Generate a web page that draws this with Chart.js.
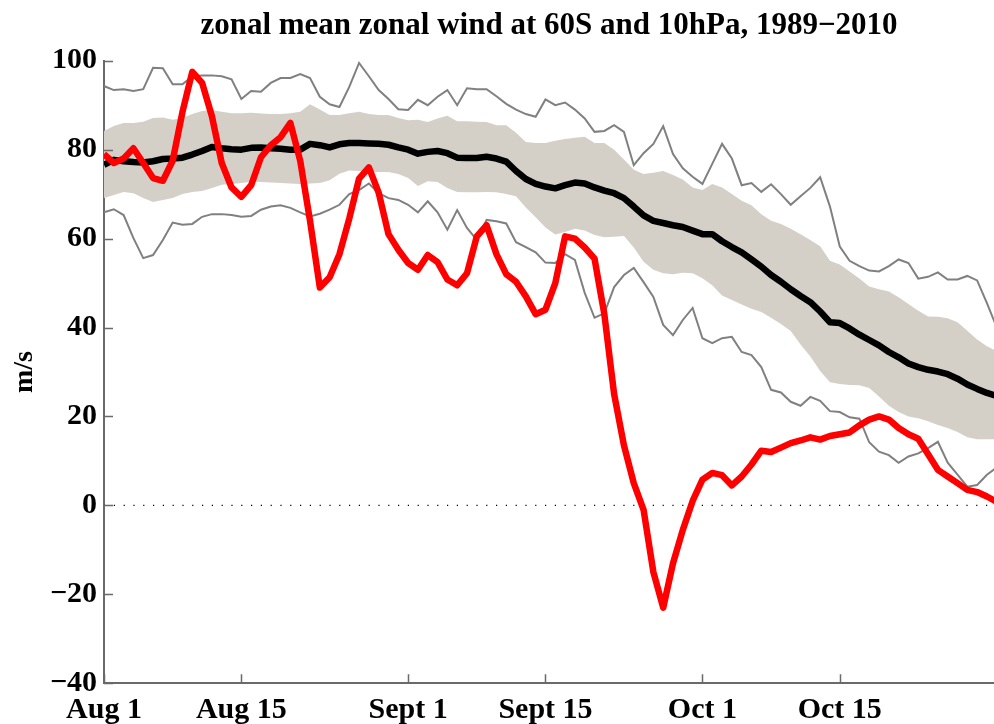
<!DOCTYPE html>
<html>
<head>
<meta charset="utf-8">
<script src="https://cdn.jsdelivr.net/npm/chart.js@4.4.1/dist/chart.umd.min.js"></script>
<style>
  html, body { margin: 0; padding: 0; background: #fff; overflow: hidden; }
  canvas { display: block; }
</style>
</head>
<body>
<canvas id="c" width="994" height="724"></canvas>
<script>
// ---- data (days since Aug 1) ----
const tickDays   = [0, 14, 31, 45, 61, 75];
const tickLabels = ['Aug 1', 'Aug 15', 'Sept 1', 'Sept 15', 'Oct 1', 'Oct 15'];
const yTicks     = [-40, -20, 0, 20, 40, 60, 80, 100];

// current year (red)
const current = [79, 77, 78, 80.3, 77, 73.6, 73, 77.5, 88.5, 97.5,
  95, 87.5, 77, 71.5, 69.4, 72, 78.3, 81, 82.8, 86,
  77.5, 64, 49, 51.3, 56.5, 64.5, 73.5, 76, 70.3, 61,
  57.5, 54.5, 53, 56.3, 54.7, 50.8, 49.5, 52.2, 60.5, 63,
  56.5, 52, 50.3, 47, 43, 44, 50, 60.5, 60, 58,
  55.5, 43, 25, 13.5, 5, -1, -15, -23, -13, -5.5,
  1, 5.8, 7.3, 6.8, 4.5, 6.5, 9.2, 12.3, 12, 13,
  14, 14.6, 15.3, 14.8, 15.6, 16, 16.4, 18, 19.3, 20,
  19.3, 17.4, 16, 15, 11.5, 8, 6.5, 5, 3.5, 3,
  2, 0.8];

// climatological mean (black)
const meanWind = [76.6, 77.7, 77.4, 77.2, 77.1, 77.4, 77.9, 78, 78.2, 78.9,
  79.7, 80.6, 80.3, 80.1, 80, 80.4, 80.5, 80.3, 80.2, 80,
  80, 81.3, 81, 80.5, 81.2, 81.5, 81.5, 81.4, 81.3, 81.1,
  80.5, 80, 79.1, 79.5, 79.7, 79.2, 78.2, 78.1, 78.1, 78.4,
  78, 77.3, 75.2, 73.4, 72.3, 71.7, 71.3, 72, 72.6, 72.4,
  71.5, 70.8, 70.2, 69.1, 67.2, 65.2, 64, 63.5, 63, 62.6,
  61.8, 61, 61, 59.4, 58.1, 56.9, 55.3, 53.7, 51.8, 50.3,
  48.6, 47.1, 45.7, 43.6, 41.2, 41, 39.8, 38.4, 37.2, 36,
  34.5, 33.3, 31.9, 31.1, 30.5, 30.1, 29.5, 28.5, 27.2, 26.2,
  25.3, 24.6];

// shaded band (upper / lower)
const bandUpper = [84.2, 85.3, 86, 86, 86.3, 87.1, 87.2, 86.7, 87.1, 88,
  88.7, 88.9, 88.5, 88.2, 88.2, 88.3, 88.1, 88, 88, 88.2,
  88.5, 90.2, 89, 87.8, 87.8, 88.2, 88.5, 88, 87.8, 87.8,
  87.1, 86.6, 86.7, 86.2, 87, 87.6, 86.4, 86.4, 86.3, 86.2,
  85.5, 85.5, 83.8, 81.7, 81.5, 81.5, 82, 82.4, 82.7, 82.9,
  81.5, 81.5, 80, 77.8, 75.5, 74.5, 74.8, 75.2, 74.3, 73.3,
  71.5, 70.9, 72.3, 71.5, 70, 68.5, 67.5, 65.5, 64, 63.3,
  62.2, 61, 59.7, 58.3, 55, 54.2, 52.6, 51, 49.2, 48.6,
  48.1, 46.8, 45.3, 43.8, 42.5, 42.4, 42.1, 41.2, 39.3, 37.3,
  35.8, 34.7];
const bandLower = [69.1, 69.8, 70.5, 70.2, 69.1, 68.2, 68.7, 69.1, 70, 70.5,
  70.7, 71.4, 72.1, 72.3, 72.5, 72.8, 72.7, 72.6, 72.5, 72.4,
  72.3, 72.4, 72.5, 73.1, 74.6, 75.3, 75.2, 75, 75, 75,
  74.5, 73.6, 71.8, 72.9, 72.7, 71.4, 70.5, 70.4, 70.4, 70.5,
  70.4, 70, 69.5, 67, 64.8, 62.5, 60.9, 61.5, 62.2, 61.8,
  60.8, 60.3, 60.4, 60.6, 58, 54.8, 53, 52.2, 52, 52.3,
  52.2, 51.1, 49.5, 47.2, 46.2, 45.2, 44.2, 43.5, 42.2, 40.8,
  39.2, 36.2, 33.5, 30.2, 27.7, 27.3, 27.1, 27, 26.4, 24.5,
  22.4, 21, 20, 19.6, 18.9, 18.1, 17.4, 16.5, 15.3, 14.9,
  14.9, 14.9];

// record max / min (grey)
const recMax = [94.3, 93.4, 93.6, 93.2, 93.6, 98.4, 98.3, 94.7, 94.7, 96.5,
  96.7, 96.7, 96.5, 95.8, 91.4, 93.2, 93, 95, 96.1, 96.1,
  97, 96.1, 91.9, 90.2, 89.6, 94.1, 99.5, 96.5, 93.4, 91.4,
  89.1, 88.9, 91.2, 90, 91.9, 93.4, 90, 93.8, 93.6, 93.6,
  92, 90.3, 89, 88, 87.4, 91.3, 90, 90.6, 89, 87,
  84, 84.2, 85.5, 84, 76.5, 79.2, 81.3, 85.3, 79, 75.8,
  73.9, 72.3, 76.8, 81.3, 78, 72, 72.5, 70.5, 72.2, 70,
  67.6, 69.5, 71.4, 73.8, 67.2, 58.2, 55, 53.8, 52.8, 52.6,
  53.8, 55.3, 54.5, 51, 51.4, 52.4, 50.8, 50.8, 51.6, 50.6,
  45.5, 40];
const recMin = [65.9, 66.6, 65.3, 60.1, 55.6, 56.3, 59.7, 63.6, 63.1, 63.3,
  64.9, 65.5, 65.5, 65.3, 64.9, 65.1, 66.5, 67.2, 67.5, 66.9,
  65.9, 65, 65.6, 66.5, 67.6, 70, 70.9, 72.4, 70.2, 69.1,
  68.7, 67.6, 65.9, 68.4, 65.9, 62, 66.4, 62.4, 59.7, 64.2,
  63.9, 63.4, 59.2, 58.1, 56.9, 54.6, 54.5, 56.5, 55.2, 47.8,
  42.2, 43.2, 49.1, 51.8, 53.4, 50.2, 46.9, 40.6, 38.3, 41.7,
  44.4, 37.6, 36.5, 37.6, 37.9, 34.5, 33.8, 31.1, 26, 25.4,
  23.3, 22.4, 24.4, 23.5, 21.2, 21, 19.8, 19.5, 14.2, 12.1,
  11.3, 9.6, 11, 11.7, 12.9, 14.3, 9.6, 6.9, 4.2, 4.6,
  6.9, 8.5];

const xMin = 0, xMax = 90.72;

// ---- build chart ----
const pts = arr => arr.map((v, i) => ({ x: i, y: v }));
const FONT = "'Liberation Serif', 'Times New Roman', serif";
const FS = 30;

const innerTicks = {
  id: 'innerTicks',
  afterDatasetsDraw(chart) {
    const { ctx, chartArea: a, scales: { x, y } } = chart;
    ctx.save();
    ctx.strokeStyle = '#6a6a6a';
    ctx.lineWidth = 1.5;
    ctx.beginPath();
    tickDays.forEach(d => {
      const px = Math.round(x.getPixelForValue(d)) + 0.5;
      ctx.moveTo(px, a.bottom); ctx.lineTo(px, a.bottom - 9);
    });
    yTicks.forEach(v => {
      const py = Math.round(y.getPixelForValue(v)) + 0.5;
      ctx.moveTo(a.left, py); ctx.lineTo(a.left + 9, py);
    });
    ctx.stroke();
    ctx.restore();
  }
};

new Chart(document.getElementById('c'), {
  type: 'line',
  data: {
    datasets: [
      { label: 'current', data: pts(current), borderColor: '#ff0000', borderWidth: 6.5,
        pointRadius: 0, fill: false, order: 0, borderJoinStyle: 'round' },
      { label: 'mean', data: pts(meanWind), borderColor: '#000000', borderWidth: 6.5,
        pointRadius: 0, fill: false, order: 1, borderJoinStyle: 'round' },
      { label: 'max', data: pts(recMax), borderColor: '#808080', borderWidth: 2,
        pointRadius: 0, fill: false, order: 2 },
      { label: 'min', data: pts(recMin), borderColor: '#808080', borderWidth: 2,
        pointRadius: 0, fill: false, order: 3 },
      { label: 'zero', data: [{ x: xMin, y: 0 }, { x: 91, y: 0 }], borderColor: '#000',
        borderWidth: 1.2, borderDash: [1.2, 8.6], pointRadius: 0, fill: false, order: 4 },
      { label: 'upper', data: pts(bandUpper), borderWidth: 0, borderColor: 'rgba(0,0,0,0)',
        backgroundColor: '#d4d0c8', pointRadius: 0, fill: '+1', order: 5 },
      { label: 'lower', data: pts(bandLower), borderWidth: 0, borderColor: 'rgba(0,0,0,0)',
        pointRadius: 0, fill: false, order: 6 }
    ]
  },
  options: {
    responsive: false,
    animation: false,
    events: [],
    layout: { padding: 0 },
    elements: { line: { tension: 0 } },
    plugins: {
      legend: { display: false },
      tooltip: { enabled: false },
      filler: { propagate: false, drawTime: 'beforeDatasetsDraw' },
      title: {
        display: true,
        fullSize: false,
        text: 'zonal mean zonal wind at 60S and 10hPa, 1989\u22122010',
        color: '#000',
        font: { family: FONT, size: 31, weight: 'bold', lineHeight: 1.2 },
        padding: { top: 6.9, bottom: 16.6 }
      }
    },
    scales: {
      x: {
        type: 'linear', min: xMin, max: xMax,
        afterBuildTicks: s => { s.ticks = tickDays.map(v => ({ value: v })); },
        afterFit: s => { s.height = 40.7; },
        grid: { display: false, drawTicks: false },
        border: { display: true, color: '#6a6a6a', width: 2 },
        ticks: {
          autoSkip: false, maxRotation: 0, padding: 9, color: '#000',
          font: { family: FONT, size: FS, weight: 'bold', lineHeight: 1.2 },
          callback: v => tickLabels[tickDays.indexOf(v)]
        }
      },
      y: {
        type: 'linear', min: -40, max: 100,
        afterBuildTicks: s => { s.ticks = yTicks.map(v => ({ value: v })); },
        afterFit: s => { s.width = 104; },
        grid: { display: false, drawTicks: false },
        border: { display: true, color: '#6a6a6a', width: 2 },
        ticks: {
          padding: 7, color: '#000',
          font: { family: FONT, size: FS, weight: 'bold', lineHeight: 1.2 },
          callback: v => (v < 0 ? '\u2212' + Math.abs(v) : String(v))
        },
        title: {
          display: true, text: 'm/s', color: '#000',
          font: { family: FONT, size: 28, weight: 'bold', lineHeight: 1.2 },
          padding: { top: 8, bottom: 0 }
        }
      }
    }
  },
  plugins: [innerTicks]
});
</script>
</body>
</html>
